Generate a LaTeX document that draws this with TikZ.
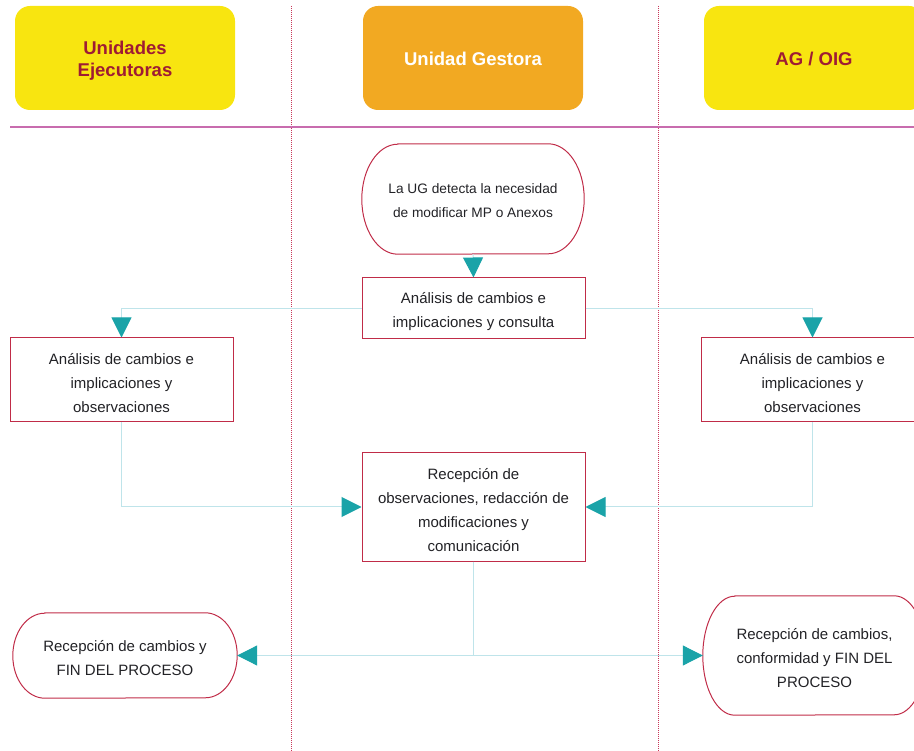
\documentclass[tikz,border=0pt]{standalone}
\usepackage{fontspec}
\setmainfont{Liberation Sans}
\usetikzlibrary{arrows.meta}
\definecolor{hdrYellow}{HTML}{F8E510}
\definecolor{hdrOrange}{HTML}{F2A922}
\definecolor{hdrText}{HTML}{9E1B34}
\definecolor{boxLine}{HTML}{C02C48}
\definecolor{connCol}{HTML}{BFE4EA}
\definecolor{tipCol}{HTML}{1AA3A8}
\definecolor{laneLine}{HTML}{C8385A}
\definecolor{sepLine}{HTML}{C86CAE}
\definecolor{txtCol}{HTML}{222226}
\newcommand\tgap[1]{\rule{0pt}{#1}}
\newcommand\termoutline[3]{%
  \draw[draw=boxLine, line width=1pt]
    ([xshift=#2]#1.north west) -- ([xshift=-#2]#1.north east)
    arc[start angle=90, end angle=-90, x radius=#2, y radius=#3]
    -- ([xshift=#2]#1.south west)
    arc[start angle=270, end angle=90, x radius=#2, y radius=#3] -- cycle;}
\begin{document}
\begin{tikzpicture}[x=1pt, y=-1pt,
  hdr/.style={rounded corners=15pt, minimum width=220pt, minimum height=104pt,
    inner sep=0pt, align=center, font=\bfseries\fontsize{18.5}{22}\selectfont},
  proc/.style={draw=boxLine, line width=1pt, fill=white, minimum width=223pt,
    inner sep=0pt, align=center, text=txtCol, font=\fontsize{15}{24}\selectfont},
  term/.style={inner sep=0pt, align=center, text=txtCol, font=\fontsize{15}{24}\selectfont},
  link/.style={draw=connCol, line width=1pt,
    -{Triangle[length=20pt, width=20pt, color=tipCol]}},
  lane/.style={draw=laneLine, line width=0.8pt, dash pattern=on 1pt off 1pt},
  sep/.style={draw=sepLine, line width=1.3pt}]
\useasboundingbox (0,0) rectangle (914,751);

% lanes and separator
\coordinate (laneAtop) at (291,6);
\coordinate (laneAbot) at (291,751);
\coordinate (laneBtop) at (658,6);
\coordinate (laneBbot) at (658,751);
\coordinate (sepL) at (10,127);
\coordinate (sepR) at (924,127);
\draw[lane] (laneAtop) -- (laneAbot);
\draw[lane] (laneBtop) -- (laneBbot);
\draw[sep] (sepL) -- (sepR);

% headers
\node[hdr, fill=hdrYellow, text=hdrText] (h1) at (125,58) {\tgap{19.5pt}Unidades\\Ejecutoras};
\node[hdr, fill=hdrOrange, text=white] (h2) at (473,58) {\tgap{15.5pt}Unidad Gestora};
\node[hdr, fill=hdrYellow, text=hdrText] (h3) at (814,58) {\tgap{15.5pt}AG / OIG};

% nodes
\node[term, minimum width=222pt, minimum height=110pt,
  font=\fontsize{13.7}{24}\selectfont] (n1) at (473,199)
  {\tgap{14pt}La UG detecta la necesidad\\de modificar MP o Anexos};
\termoutline{n1}{36pt}{55pt}

\node[proc, minimum height=61pt] (n2) at (473.5,308.5)
  {\tgap{17pt}Análisis de cambios e\\implicaciones y consulta};

\node[proc, minimum height=84pt] (n3) at (121.5,380)
  {\tgap{16.5pt}Análisis de cambios e\\implicaciones y\\observaciones};

\node[proc, minimum height=84pt] (n4) at (812.5,380)
  {\tgap{16.5pt}Análisis de cambios e\\implicaciones y\\observaciones};

\node[proc, minimum height=108pt] (n5) at (473.5,507)
  {\tgap{16.5pt}Recepción de\\observaciones, redacción de\\modificaciones y\\comunicación};

\node[term, minimum width=224pt, minimum height=85pt] (n6) at (125,655.5)
  {\tgap{15.5pt}Recepción de cambios y\\FIN DEL PROCESO};
\termoutline{n6}{32pt}{42.5pt}

\node[term, minimum width=223pt, minimum height=119pt] (n7) at (814.5,655.5)
  {\tgap{15.5pt}Recepción de cambios,\\conformidad y FIN DEL\\PROCESO};
\termoutline{n7}{32pt}{59.5pt}

% connectors
\draw[link] (n1.south) -- (n2.north);
\draw[link] (n2.west) -| (n3.north);
\draw[link] (n2.east) -| (n4.north);
\draw[link] (n3.south) |- (n5.west);
\draw[link] (n4.south) |- (n5.east);
\draw[link] (n5.south) |- (n6.east);
\draw[link] (n5.south) |- (n7.west);
\end{tikzpicture}
\end{document}
